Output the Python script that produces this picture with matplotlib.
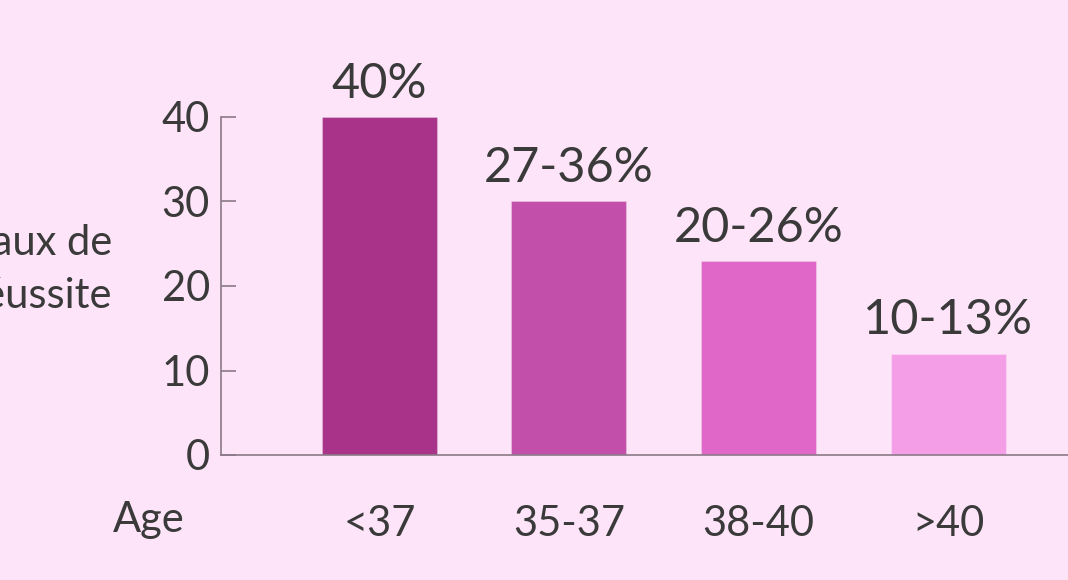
import numpy as np
import matplotlib
matplotlib.use('Agg')
import matplotlib.pyplot as plt

# Data
categories = ['<37', '35-37', '38-40', '>40']
values = [40, 30, 23, 12]
value_labels = ['40%', '27-36%', '20-26%', '10-13%']
bar_colors = ['#a83388', '#c24fa9', '#e066c8', '#f59ee8']
yticks = [0, 10, 20, 30, 40]

bg = '#fde4f8'
txt = '#3a3a3a'
axis_col = '#8a7a88'

plt.rcParams['font.family'] = ['Lato', 'DejaVu Sans']

fig = plt.figure(figsize=(10.68, 5.8), dpi=100, facecolor=bg)
ax = fig.add_axes([221 / 1068, 1 - 455 / 580, 1 - 221 / 1068, (455 - 117) / 580])
ax.set_facecolor(bg)

x = np.arange(len(categories))
bars = ax.bar(x, values, width=0.607, color=bar_colors, edgecolor='#ffffff40', linewidth=0.8)

for xi, v, lab in zip(x, values, value_labels):
    ax.annotate(lab, (xi, v), xytext=(0, 8), textcoords='offset points',
                ha='center', va='bottom', fontsize=35, color=txt, annotation_clip=False)

ax.set_xlim(-0.836, 3.633)
ax.set_ylim(0, 40)
ax.set_yticks(yticks)
ax.set_xticks(x)
ax.set_xticklabels(categories)

for s in ['top', 'right']:
    ax.spines[s].set_visible(False)
for s in ['left', 'bottom']:
    ax.spines[s].set_color(axis_col)
    ax.spines[s].set_linewidth(1.2)

ax.tick_params(axis='y', direction='in', length=11, width=1.2, color=axis_col,
               labelsize=30, labelcolor=txt, pad=8)
ax.tick_params(axis='x', length=0, labelsize=30, labelcolor=txt, pad=36)

# y label is partly cut off by the left edge, like in the reference
fig.text(112 / 1068, 1 - 255 / 580, 'Taux de', ha='right', va='baseline', fontsize=30, color=txt)
fig.text(112 / 1068, 1 - 308 / 580, 'réussite', ha='right', va='baseline', fontsize=30, color=txt)
fig.text(113 / 1068, 1 - 532 / 580, 'Age', ha='left', va='baseline', fontsize=30, color=txt)

fig.savefig('out.png', dpi=100, facecolor=bg)
